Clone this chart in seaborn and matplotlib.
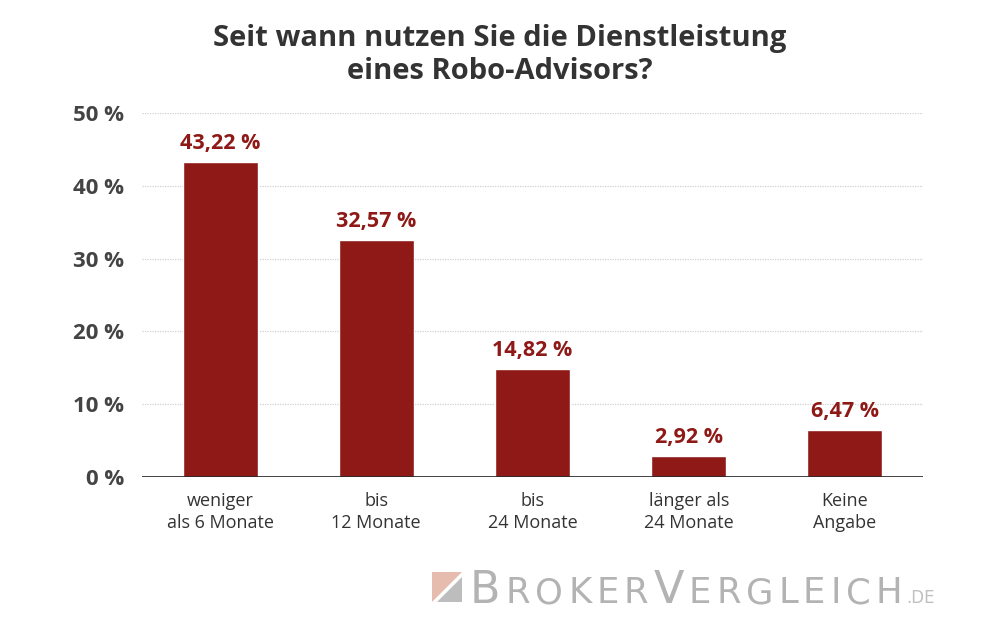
import matplotlib
matplotlib.use("Agg")
import matplotlib.pyplot as plt
import seaborn as sns
import pandas as pd
from matplotlib.patches import Polygon

categories = ["weniger\nals 6 Monate", "bis\n12 Monate", "bis\n24 Monate",
              "länger als\n24 Monate", "Keine\nAngabe"]
values = [43.22, 32.57, 14.82, 2.92, 6.47]
yticks = [0, 10, 20, 30, 40, 50]

df = pd.DataFrame({"cat": categories, "val": values})

sns.set_style("white")
plt.rcParams["font.family"] = ["Open Sans", "DejaVu Sans"]

bar_color = "#8e1916"

fig = plt.figure(figsize=(10, 6.29), dpi=100)
ax = fig.add_axes([0.142, 0.2417, 0.781, 0.5786])

sns.barplot(data=df, x="cat", y="val", color=bar_color, width=0.48,
            saturation=1, ax=ax, zorder=3)

ax.set_ylim(0, 50)
ax.set_yticks(yticks)
ax.set_yticklabels([f"{t} %" for t in yticks], fontsize=16, fontweight="bold",
                   color="#444444")
ax.tick_params(axis="y", length=0, pad=13)
ax.tick_params(axis="x", length=0, pad=11, labelsize=13, labelcolor="#333333")
for lbl in ax.get_xticklabels():
    lbl.set_linespacing(1.3)
ax.set_xlabel("")
ax.set_ylabel("")
ax.set_xlim(-0.5, len(categories) - 0.5)

for t in yticks[1:]:
    ax.axhline(t, color="#d0d0d0", lw=0.9, ls=(0, (1, 1)), zorder=1)
ax.axhline(0, color="#222222", lw=1.2, zorder=4)

for s in ax.spines.values():
    s.set_visible(False)

for i, v in enumerate(values):
    ax.text(i, v + 1.1, f"{v:.2f} %".replace(".", ","), ha="center", va="bottom",
            fontsize=15.5, fontweight="bold", color=bar_color)

fig.text(0.5, 0.962, "Seit wann nutzen Sie die Dienstleistung\neines Robo-Advisors?",
         ha="center", va="top", fontsize=21, fontweight="bold", color="#333333",
         linespacing=1.2)

# watermark logo (display pixels, y from bottom)
H = 629
fig.patches.append(Polygon([[432, H - 602], [432, H - 572], [462, H - 572]],
                           closed=True, transform=None,
                           facecolor="#e6bcae", edgecolor="none"))
fig.patches.append(Polygon([[437, H - 602], [462, H - 577], [462, H - 602]],
                           closed=True, transform=None,
                           facecolor="#bdbdbd", edgecolor="none"))

fig.canvas.draw()
renderer = fig.canvas.get_renderer()
parts = [("B", 32), ("ROKER", 25.5), ("V", 32), ("ERGLEICH", 25.5)]
x = 470
for txt, size in parts:
    for ch in txt:
        t = fig.text(x / 1000, 1 - 603 / 629, ch, fontsize=size, color="#b3b3b3",
                     ha="left", va="baseline", family="DejaVu Sans")
        bb = t.get_window_extent(renderer)
        x += bb.width + 5
t = fig.text((x - 1) / 1000, 1 - 603 / 629, ".DE", fontsize=12, color="#c0c0c0",
             ha="left", va="baseline", family="DejaVu Sans")

fig.savefig("out.png", dpi=100)
